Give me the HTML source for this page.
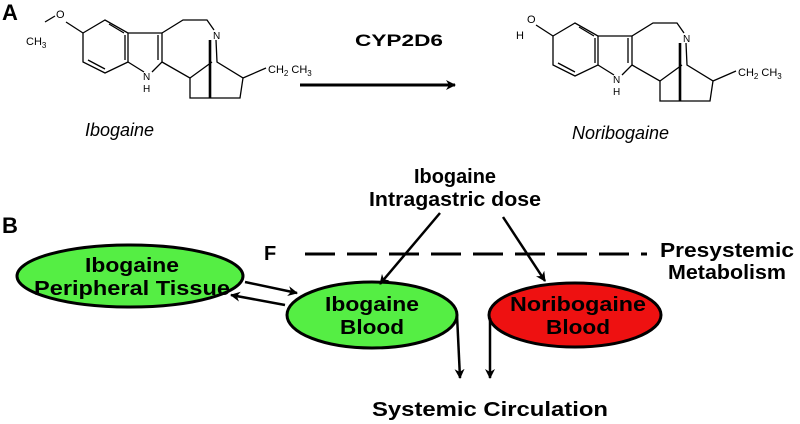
<!DOCTYPE html>
<html><head><style>body{margin:0;background:#fff}svg{display:block}</style></head><body>
<svg width="800" height="424" viewBox="0 0 800 424" xmlns="http://www.w3.org/2000/svg" font-family="Liberation Sans, sans-serif">
<defs>
<marker id="ah" markerWidth="10" markerHeight="10" refX="9" refY="5" orient="auto" markerUnits="userSpaceOnUse"><path d="M0,0 L10,5 L0,10 L3,5 z" fill="#000"/></marker>
<g id="mol" fill="none" stroke="#000" stroke-width="1.3">
<path d="M83,33 L105,20 L128,33 L128,62 L105,73 L83,62 Z"/>
<path d="M88,60 L105,69 M109,24 L124,33 M125,35 L125,60"/>
<path d="M128,33 L162,33 L162,62 L152,72 M144,72 L128,62"/>
<path d="M158,35 L158,60"/>
<path d="M162,33 L183,20 L207,20 L214,30"/>
<path d="M162,62 L190,78 L190,98 L210,98 L240,98 L243,78 L217,62 L216,40"/>
<path d="M190,78 L212,62"/>
<path d="M210,40 L210,98" stroke-width="2.6"/>
<path d="M243,78 L266,68"/>
<text x="213" y="39" font-size="10" fill="#000" stroke="none">N</text>
<text x="143" y="80" font-size="10" fill="#000" stroke="none">N</text>
<text x="143" y="92" font-size="10" fill="#000" stroke="none">H</text>
<text x="268" y="73" font-size="11" fill="#000" stroke="none">CH<tspan font-size="8" dy="3">2</tspan><tspan dy="-3"> CH</tspan><tspan font-size="8" dy="3">3</tspan></text>
</g>
</defs>
<text x="2" y="20" font-size="22" font-weight="bold">A</text>
<use href="#mol"/>
<path d="M83,33 L66,22 M55,16 L45,22" stroke="#000" stroke-width="1.3" fill="none"/>
<text x="56" y="18" font-size="11">O</text>
<text x="26" y="45" font-size="11">CH<tspan font-size="8" dy="3">3</tspan></text>
<text x="85" y="136" font-size="18" font-style="italic">Ibogaine</text>
<g transform="translate(470,3)"><use href="#mol"/>
<path d="M83,33 L66,22" stroke="#000" stroke-width="1.3"/>
<text x="57" y="20" font-size="11">O</text><text x="46" y="36" font-size="11">H</text></g>
<text x="572" y="139" font-size="18" font-style="italic">Noribogaine</text>
<text x="355" y="46" font-size="17" font-weight="bold" textLength="88" lengthAdjust="spacingAndGlyphs">CYP2D6</text>
<line x1="300" y1="85" x2="455" y2="85" stroke="#000" stroke-width="3" marker-end="url(#ah)"/>
<text x="2" y="233" font-size="22" font-weight="bold">B</text>
<g font-size="20" font-weight="bold" text-anchor="middle">
<text x="455" y="183" textLength="82" lengthAdjust="spacingAndGlyphs">Ibogaine</text><text x="455" y="206" textLength="172" lengthAdjust="spacingAndGlyphs">Intragastric dose</text>
<text x="727" y="257" textLength="134" lengthAdjust="spacingAndGlyphs">Presystemic</text><text x="727" y="279" textLength="118" lengthAdjust="spacingAndGlyphs">Metabolism</text>
<text x="490" y="416" textLength="236" lengthAdjust="spacingAndGlyphs">Systemic Circulation</text>
</g>
<text x="264" y="260" font-size="20" font-weight="bold">F</text>
<line x1="305" y1="254" x2="647" y2="254" stroke="#000" stroke-width="3" stroke-dasharray="30 12"/>
<ellipse cx="130" cy="276" rx="113" ry="31" fill="#55ee44" stroke="#000" stroke-width="3"/>
<ellipse cx="372" cy="315" rx="85" ry="33" fill="#55ee44" stroke="#000" stroke-width="3"/>
<ellipse cx="575" cy="315" rx="86" ry="32" fill="#ee1111" stroke="#000" stroke-width="3"/>
<g font-size="20" font-weight="bold" text-anchor="middle">
<text x="132" y="272" textLength="94" lengthAdjust="spacingAndGlyphs">Ibogaine</text><text x="132" y="295" textLength="196" lengthAdjust="spacingAndGlyphs">Peripheral Tissue</text>
<text x="372" y="311" textLength="94" lengthAdjust="spacingAndGlyphs">Ibogaine</text><text x="372" y="334" textLength="64" lengthAdjust="spacingAndGlyphs">Blood</text>
<text x="578" y="311" textLength="136" lengthAdjust="spacingAndGlyphs">Noribogaine</text><text x="578" y="334" textLength="64" lengthAdjust="spacingAndGlyphs">Blood</text>
</g>
<g stroke="#000" stroke-width="2.5" fill="none" marker-end="url(#ah)">
<line x1="440" y1="213" x2="380" y2="284"/>
<line x1="503" y1="217" x2="545" y2="281"/>
<line x1="245" y1="282" x2="297" y2="293"/>
<line x1="285" y1="305" x2="231" y2="295"/>
<path d="M457,315 L460,378"/>
<path d="M490,318 L490,378"/>
</g>
</svg>
</body></html>
